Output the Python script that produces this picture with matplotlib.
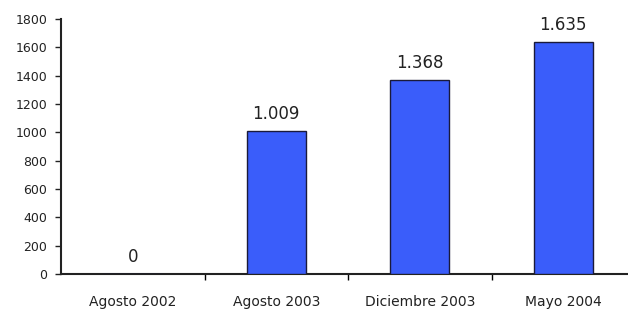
import numpy as np
import matplotlib
matplotlib.use("Agg")
import matplotlib.pyplot as plt

categorias = ["Agosto 2002", "Agosto 2003", "Diciembre 2003", "Mayo 2004"]
valores = [0, 1009, 1368, 1635]
etiquetas = ["0", "1.009", "1.368", "1.635"]

plt.rcParams['font.family'] = ['DejaVu Sans']

fig = plt.figure(figsize=(6.28, 3.12), dpi=100)
ax = fig.add_axes([61/628, 1 - 274/312, 574/628, (274 - 19)/312])

x = np.arange(len(categorias))
ax.bar(x, valores, width=0.41, color="#3a5dfa", edgecolor="#1a1a3a", linewidth=1.0, zorder=3)

for xi, v, t in zip(x, valores, etiquetas):
    ax.annotate(t, (xi, v), xytext=(0, 9), textcoords="offset points",
                ha="center", va="baseline", fontsize=12, color="#222222")

ax.set_xlim(-0.5, 3.5)
ax.set_ylim(0, 1800)
ax.set_yticks(np.arange(0, 1801, 200))
ax.tick_params(axis="y", labelsize=9, length=4, width=1, pad=6, colors="#222222")

# etiquetas centradas, marcas entre categorias
ax.set_xticks(x)
ax.set_xticklabels(categorias, fontsize=10, color="#222222")
ax.tick_params(axis="x", length=0, pad=15)
ax.set_xticks(x[:-1] + 0.5, minor=True)
ax.tick_params(axis="x", which="minor", length=4, width=1, direction="out")

for s in ["top", "right"]:
    ax.spines[s].set_visible(False)
ax.spines["left"].set_linewidth(1.5)
ax.spines["bottom"].set_linewidth(1.5)
ax.spines["left"].set_color("#222222")
ax.spines["bottom"].set_color("#222222")

fig.savefig("out.png", dpi=100)
